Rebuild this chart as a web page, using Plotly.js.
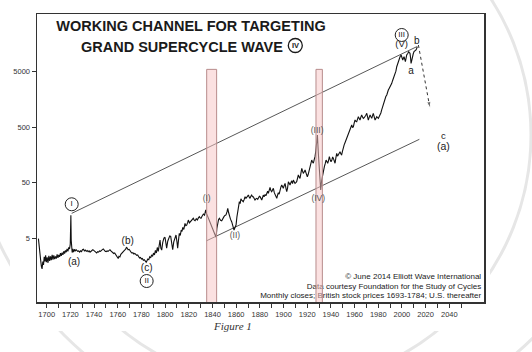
<!DOCTYPE html>
<html>
<head>
<meta charset="utf-8">
<script src="https://cdn.plot.ly/plotly-3.0.1.min.js"></script>
<style>html,body{margin:0;padding:0;background:#fff;}#chart{width:532px;height:352px;}</style>
</head>
<body>
<div id="chart"></div>
<script>
// ---- data ----
const priceYears = [1693.0,1693.5,1694.2,1694.8,1695.5,1696.1,1696.7,1697.3,1697.9,1698.5,1699.1,1699.7,1700.4,1701.1,1701.8,1702.5,1703.2,1703.9,1704.6,1705.3,1706.0,1706.7,1707.4,1708.1,1708.8,1709.5,1710.2,1710.9,1711.6,1712.3,1713.0,1713.7,1714.4,1715.1,1715.8,1716.5,1717.2,1717.9,1718.6,1719.3,1719.9,1720.4,1720.7,1721.0,1721.5,1722.0,1722.6,1723.3,1724.0,1724.8,1725.5,1726.2,1727.0,1727.8,1728.6,1729.4,1730.2,1731.0,1731.8,1732.6,1733.4,1734.2,1735.0,1735.8,1736.6,1737.4,1738.2,1739.0,1739.8,1740.6,1741.4,1742.2,1743.0,1743.8,1744.6,1745.4,1746.2,1747.0,1747.8,1748.6,1749.4,1750.2,1751.0,1751.8,1752.6,1753.4,1754.2,1755.0,1755.8,1756.6,1757.4,1758.2,1759.0,1759.8,1760.4,1761.0,1761.8,1762.6,1763.4,1764.2,1765.0,1765.8,1766.6,1767.4,1768.0,1768.8,1769.6,1770.4,1771.2,1772.0,1772.8,1773.6,1774.4,1775.2,1776.0,1776.8,1777.6,1778.4,1779.2,1780.0,1780.8,1781.6,1782.4,1783.2,1784.0,1784.6,1785.4,1786.2,1787.0,1787.8,1788.6,1789.4,1790.2,1791.0,1791.8,1792.6,1793.4,1794.2,1795.0,1795.7,1796.4,1797.1,1798.0,1799.0,1799.9,1800.6,1801.3,1802.2,1803.0,1803.9,1804.7,1805.5,1806.4,1807.3,1808.3,1809.2,1810.0,1810.6,1811.3,1812.0,1812.8,1813.6,1814.3,1814.9,1815.8,1816.8,1817.5,1818.2,1819.0,1819.6,1820.5,1821.6,1822.6,1823.8,1824.6,1825.3,1826.3,1827.2,1828.1,1828.9,1829.6,1830.3,1831.3,1832.3,1833.3,1834.3,1835.0,1836.0,1837.0,1837.9,1839.0,1840.2,1841.2,1842.1,1843.0,1843.7,1844.4,1845.1,1845.8,1846.8,1847.8,1848.8,1849.7,1850.5,1851.4,1852.3,1852.9,1853.6,1854.2,1855.2,1856.2,1857.2,1858.2,1859.0,1859.9,1860.6,1861.3,1862.0,1862.7,1863.4,1864.0,1864.7,1865.4,1866.0,1866.8,1867.5,1868.3,1869.0,1870.3,1871.0,1871.7,1872.4,1873.1,1873.8,1874.5,1875.2,1875.9,1876.6,1877.4,1878.2,1879.0,1879.6,1880.2,1880.9,1881.6,1882.3,1882.9,1883.6,1884.4,1885.1,1885.8,1886.6,1887.2,1888.0,1888.6,1889.3,1890.0,1890.7,1891.4,1892.2,1893.0,1893.6,1894.3,1895.0,1895.6,1896.3,1897.0,1897.8,1898.5,1899.2,1899.8,1900.5,1901.3,1902.0,1902.7,1903.4,1904.1,1904.8,1905.5,1906.2,1906.9,1907.6,1908.3,1909.0,1909.7,1910.4,1911.1,1911.8,1912.5,1913.2,1913.9,1914.6,1915.4,1916.0,1916.7,1917.4,1918.2,1918.9,1919.5,1920.1,1920.8,1921.4,1921.8,1922.6,1923.2,1923.8,1924.5,1925.2,1925.9,1926.6,1927.3,1928.0,1928.6,1929.4,1930.1,1930.8,1931.4,1932.2,1933.1,1933.8,1934.5,1935.2,1935.9,1936.6,1937.3,1938.0,1938.7,1939.4,1940.1,1940.8,1941.5,1942.1,1942.8,1943.5,1944.2,1944.9,1945.6,1946.3,1947.0,1947.7,1948.4,1949.1,1949.8,1950.5,1951.2,1952.0,1952.7,1953.4,1954.2,1955.0,1955.6,1956.2,1956.9,1957.6,1958.3,1959.0,1959.7,1960.4,1961.1,1961.8,1962.5,1963.2,1963.9,1964.6,1965.3,1966.0,1966.7,1967.4,1968.1,1968.8,1969.5,1970.3,1970.9,1971.6,1972.4,1973.1,1973.8,1974.5,1975.1,1975.8,1976.5,1977.3,1978.0,1978.7,1979.4,1980.1,1980.8,1981.5,1982.2,1982.9,1983.6,1984.3,1985.0,1985.7,1986.4,1987.2,1987.8,1988.5,1989.2,1990.0,1990.7,1991.4,1992.0,1992.7,1993.4,1994.2,1994.9,1995.6,1996.3,1997.0,1997.7,1998.4,1999.3,2000.0,2000.7,2001.3,2001.8,2002.4,2002.9,2003.5,2004.0,2004.9,2005.7,2006.3,2006.8,2007.3,2007.7,2008.3,2008.8,2009.5,2010.2,2011.0,2011.9,2012.5,2013.0];
const priceValues = [4.9,3.5,2.4,2.1,1.55,1.4,1.9,1.65,2.3,1.9,2.45,1.85,2.25,1.8,2.4,1.95,2.35,2.0,2.5,2.05,2.45,2.1,2.35,2.15,2.55,2.2,2.5,2.3,2.7,2.4,2.75,2.5,2.9,2.65,3.0,2.8,3.2,2.9,3.4,3.2,3.9,13.0,4.6,3.3,2.75,3.2,2.8,3.15,2.9,3.1,3.0,2.9,2.95,2.8,2.95,2.85,3.1,3.15,2.95,3.05,2.9,3.0,2.85,2.95,2.8,2.95,3.0,3.1,2.95,2.85,2.8,2.7,2.85,2.8,2.95,2.9,3.05,3.1,3.2,3.0,2.9,2.85,2.95,2.9,3.05,3.1,2.95,2.85,2.75,2.65,2.7,2.55,2.45,2.35,2.15,2.35,2.3,2.55,2.7,2.85,2.95,3.05,3.15,3.45,3.3,3.1,3.15,2.85,2.8,2.7,2.75,2.6,2.65,2.55,2.45,2.5,2.3,2.2,2.25,2.1,2.15,2.0,2.05,1.9,1.85,1.95,2.1,2.05,2.3,2.2,2.5,2.35,2.7,2.5,3.0,2.7,3.4,2.9,4.0,4.6,3.3,3.05,4.2,5.0,5.2,3.8,3.3,4.4,5.0,5.5,5.4,3.9,3.1,4.3,5.2,5.7,4.3,3.3,4.6,6.1,5.6,7.0,6.6,7.8,7.2,9.2,8.4,8.6,9.5,10.6,9.4,9.9,10.8,11.4,10.6,10.3,11.2,10.6,11.6,12.2,11.6,11.4,12.6,13.6,13.0,16.1,13.8,12.2,11.0,9.9,8.5,7.0,6.3,5.5,5.2,7.5,9.9,10.8,11.4,10.5,10.3,11.5,12.2,12.8,13.1,15.0,17.3,14.5,12.2,11.0,9.9,8.5,7.0,7.8,8.6,12.0,16.1,19.5,22.7,21.0,25.5,24.3,23.0,22.7,25.0,27.9,26.1,27.0,29.9,27.5,26.1,28.5,29.9,28.0,27.9,26.0,24.3,25.5,26.1,25.0,26.5,28.5,27.9,26.0,24.3,27.0,29.9,28.0,30.5,29.0,32.1,35.0,32.0,37.0,41.2,36.0,34.4,37.0,39.5,33.0,29.0,27.5,26.1,30.0,33.0,31.0,36.9,42.0,45.4,42.0,39.5,44.0,48.6,40.0,34.4,40.0,52.0,49.0,45.4,50.0,54.0,48.0,55.8,52.0,48.6,50.0,52.0,60.0,68.7,63.0,59.8,72.0,90.7,82.0,73.6,78.0,84.5,76.0,70.0,64.0,70.0,78.0,84.5,100.0,115.0,128.0,118.0,112.0,130.0,147.0,190.0,260.0,361.0,169.0,90.0,48.6,36.9,55.0,73.6,88.0,97.0,110.0,128.0,120.0,112.0,125.0,147.0,130.0,119.0,128.0,145.0,137.0,125.0,112.0,140.0,169.0,150.0,157.0,170.0,181.0,165.0,160.0,185.0,220.0,240.0,265.0,290.0,315.0,380.0,420.0,450.0,477.0,520.0,547.0,490.0,510.0,600.0,673.0,640.0,627.0,700.0,771.0,720.0,673.0,760.0,828.0,760.0,721.0,740.0,771.0,820.0,889.0,760.0,673.0,760.0,828.0,770.0,721.0,800.0,889.0,780.0,673.0,720.0,771.0,740.0,721.0,780.0,828.0,900.0,1021.0,1150.0,1253.0,1450.0,1656.0,1780.0,1898.0,2150.0,2335.0,2500.0,2680.0,2850.0,3081.0,3400.0,3793.0,4100.0,4354.0,5100.0,6139.0,6900.0,7554.0,8500.0,9300.0,9970.0,9000.0,8110.0,8800.0,9300.0,8300.0,7554.0,8800.0,9970.0,10600.0,11460.0,11000.0,10700.0,8800.0,7060.0,8000.0,9300.0,10400.0,11460.0,11800.0,12270.0,13200.0,14100.0];

const upperChannelYears = [1721.1, 2012.5];
const upperChannelValues = [14.0, 14100];
const lowerChannelYears = [1835.1, 2014.7];
const lowerChannelValues = [4.5, 302];

const projectionYears = [2013.9, 2023.7];
const projectionValues = [15100, 1094];

const crashBandStart = [1835.1, 1927.4];
const crashBandEnd = [1843.5, 1932.8];
const crashBandTop = [5500, 5500];
const crashBandBottom = [0.1, 0.1];

const circledLabels = ['I', 'II', 'III'];
const circledYears = [1721.1, 1784.4, 1999.8];
const circledValues = [20.4, 0.845, 22900];

const waveLabels = ['(a)', '(b)', '(c)', '(I)', '(II)', '(III)', '(IV)', '(V)', 'a', 'b', 'c', '(a)'];
const waveYears = [1723.1, 1768.4, 1784.4, 1835.1, 1859.0, 1928.4, 1929.3, 1999.8, 2007.7, 2012.6, 2035.0, 2035.0];
const waveValues = [1.84, 4.3, 1.41, 25.1, 5.47, 427, 25.4, 15100, 4990, 17300, 337, 213];

const tickYears = [1700,1710,1720,1730,1740,1750,1760,1770,1780,1790,1800,1810,1820,1830,1840,1850,1860,1870,1880,1890,1900,1910,1920,1930,1940,1950,1960,1970,1980,1990,2000,2010,2020,2030,2040,2050];
const tickYearLabels = ['1700','','1720','','1740','','1760','','1780','','1800','','1820','','1840','','1860','','1880','','1900','','1920','','1940','','1960','','1980','','2000','','2020','','2040',''];
const priceTicks = [5, 50, 500, 5000];
const priceTickLabels = ['5', '50', '500', '5000'];

const titleLine1 = 'WORKING CHANNEL FOR TARGETING';
const titleLine2 = 'GRAND SUPERCYCLE WAVE';
const titleWaveNumeral = 'IV';

const footnotes = ['\u00a9 June 2014 Elliott Wave International', 'Data courtesy Foundation for the Study of Cycles', 'Monthly closes; British stock prices 1693-1784; U.S. thereafter'];

// ---- chart ----
const SANS = 'Liberation Sans, Arial, sans-serif';
const ink = '#222222';

const traces = [];

traces.push({
  x: upperChannelYears, y: upperChannelValues, mode: 'lines', type: 'scatter',
  line: {color: '#444', width: 0.9}, hoverinfo: 'skip', showlegend: false
});
traces.push({
  x: lowerChannelYears, y: lowerChannelValues, mode: 'lines', type: 'scatter',
  line: {color: '#444', width: 0.9}, hoverinfo: 'skip', showlegend: false
});
traces.push({
  x: priceYears, y: priceValues, mode: 'lines', type: 'scatter',
  line: {color: '#111', width: 1.1}, showlegend: false
});
traces.push({
  x: projectionYears, y: projectionValues, mode: 'lines+markers', type: 'scatter',
  line: {color: '#333', width: 1, dash: 'dot'},
  marker: {symbol: ['circle', 'arrow'], size: [0, 7], angleref: 'previous', color: '#333'},
  showlegend: false, hoverinfo: 'skip'
});
traces.push({
  x: footnotes.map(() => 2066.9), y: [0.986, 0.667, 0.454], mode: 'text', type: 'scatter',
  text: footnotes, textposition: 'middle left',
  textfont: {family: SANS, size: 8, color: ink}, showlegend: false, hoverinfo: 'skip', cliponaxis: false
});
// crash bands (drawn over line and footnotes, semi-transparent)
for (let i = 0; i < crashBandStart.length; i++) {
  traces.push({
    x: [crashBandStart[i], crashBandEnd[i], crashBandEnd[i], crashBandStart[i], crashBandStart[i]],
    y: [crashBandBottom[i], crashBandBottom[i], crashBandTop[i], crashBandTop[i], crashBandBottom[i]],
    mode: 'lines', type: 'scatter', fill: 'toself',
    fillcolor: 'rgba(248,196,196,0.5)', line: {color: '#b88c8c', width: 1},
    showlegend: false, hoverinfo: 'skip'
  });
}
traces.push({
  x: circledYears, y: circledValues, mode: 'markers+text', type: 'scatter',
  text: circledLabels, textposition: 'middle center',
  textfont: {family: SANS, size: 8, color: '#222222'},
  marker: {symbol: 'circle-open', size: 13, color: '#222222', line: {width: 1, color: '#222222'}},
  showlegend: false, hoverinfo: 'skip', cliponaxis: false
});
traces.push({
  x: waveYears, y: waveValues, mode: 'text', type: 'scatter',
  text: waveLabels, textposition: 'middle center',
  textfont: {family: SANS, size: [10,10,10,8.5,8.5,8.5,8.5,9.5,10,10,9.5,10.5],
             color: [ink,ink,ink,'#555','#555','#555','#555',ink,ink,ink,ink,ink]},
  showlegend: false, hoverinfo: 'skip', cliponaxis: false
});

const L = 37, R = 484, T = 14, B = 302;
const px2x = p => (p - L) / (R - L);
const px2y = p => (B - p) / (B - T);

const layout = {
  width: 532, height: 352,
  margin: {l: L, r: 532 - R, t: T, b: 352 - B, pad: 0},
  paper_bgcolor: '#ffffff', plot_bgcolor: 'rgba(0,0,0,0)',
  showlegend: false,
  title: {
    text: '<b>' + titleLine1 + '</b>',
    x: 191 / 532, xanchor: 'center', xref: 'container',
    y: 1 - 21 / 352, yanchor: 'top', yref: 'container',
    font: {family: SANS, size: 14.5, color: '#1a1a1a'}
  },
  xaxis: {
    type: 'linear', range: [1691.8, 2069.3],
    tickmode: 'array', tickvals: tickYears, ticktext: tickYearLabels,
    ticks: 'outside', ticklen: 4, tickwidth: 1, tickcolor: '#333',
    showgrid: false, zeroline: false,
    showline: true, linecolor: '#333', linewidth: 1.5, mirror: true,
    tickfont: {family: SANS, size: 7.5, color: '#333'}
  },
  xaxis2: {
    type: 'linear', range: [1691.8, 2069.3], overlaying: 'x', anchor: 'y', side: 'bottom',
    tickmode: 'array', tickvals: tickYears, ticks: 'inside', ticklen: 4, tickwidth: 1, tickcolor: '#333',
    showticklabels: false, showgrid: false, zeroline: false, showline: false
  },
  yaxis: {
    type: 'log', range: [-0.451, 4.738],
    tickmode: 'array', tickvals: priceTicks, ticktext: priceTickLabels,
    ticks: 'outside', ticklen: 4, tickwidth: 1, tickcolor: '#333',
    showgrid: false, zeroline: false,
    showline: true, linecolor: '#333', linewidth: 1.5, mirror: true,
    tickfont: {family: SANS, size: 7.5, color: '#333'}
  },
  yaxis2: {
    type: 'log', range: [-0.451, 4.738], overlaying: 'y', anchor: 'x', side: 'left',
    tickmode: 'array', tickvals: priceTicks, ticks: 'inside', ticklen: 5, tickwidth: 1, tickcolor: '#333',
    showticklabels: false, showgrid: false, zeroline: false, showline: false
  },
  shapes: [
    {type: 'circle', xref: 'paper', yref: 'paper', layer: 'below',
     x0: px2x(29), x1: px2x(531), y0: px2y(386), y1: px2y(-116),
     line: {color: '#e6e6e6', width: 3}},
    {type: 'circle', xref: 'paper', yref: 'paper', layer: 'below',
     x0: px2x(-33), x1: px2x(633), y0: px2y(433), y1: px2y(-233),
     line: {color: '#e6e6e6', width: 3}},
    {type: 'rect', xref: 'paper', yref: 'paper', layer: 'below',
     x0: px2x(10), x1: px2x(490), y0: px2y(331), y1: px2y(-2),
     fillcolor: '#ffffff', line: {width: 0}},
    {type: 'circle', xref: 'paper', yref: 'paper', layer: 'above',
     x0: px2x(288.3), x1: px2x(302.3), y0: px2y(52.5), y1: px2y(38.5),
     line: {color: '#1a1a1a', width: 1.3}}
  ],
  annotations: [
    {text: '<b>' + titleLine2 + '</b>', xref: 'paper', yref: 'paper', x: px2x(182), y: px2y(46.5),
     xanchor: 'center', yanchor: 'middle', showarrow: false,
     font: {family: SANS, size: 14.5, color: '#1a1a1a'}},
    {text: '<b>' + titleWaveNumeral + '</b>', xref: 'paper', yref: 'paper', x: px2x(295.3), y: px2y(45.5),
     xanchor: 'center', yanchor: 'middle', showarrow: false,
     font: {family: SANS, size: 7.5, color: '#1a1a1a'}},
    {text: '<i>Figure 1</i>', xref: 'paper', yref: 'paper', x: px2x(232), y: px2y(326),
     xanchor: 'center', yanchor: 'middle', showarrow: false,
     font: {family: 'Liberation Serif, Times New Roman, serif', size: 11, color: '#333'}}
  ]
};

Plotly.newPlot('chart', traces, layout, {displayModeBar: false, staticPlot: true});
</script>
</body>
</html>
